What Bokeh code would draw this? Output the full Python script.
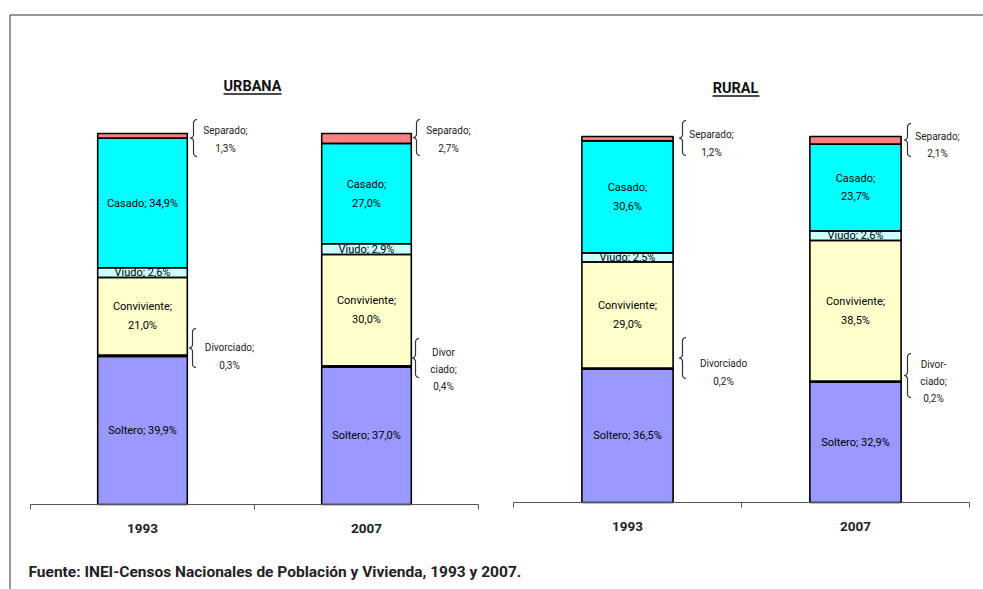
import math
from bokeh.plotting import figure
from bokeh.models import Range1d, ColumnDataSource
from bokeh.core.properties import value
from bokeh.embed import file_html
from bokeh.resources import INLINE

# ---------------- data ----------------
years = ["1993", "2007"]
estados = ["Soltero", "Divorciado", "Conviviente", "Viudo", "Casado", "Separado"]
urbana_1993 = [39.9, 0.3, 21.0, 2.6, 34.9, 1.3]
urbana_2007 = [37.0, 0.4, 30.0, 2.9, 27.0, 2.7]
rural_1993 = [36.5, 0.2, 29.0, 2.5, 30.6, 1.2]
rural_2007 = [32.9, 0.2, 38.5, 2.6, 23.7, 2.1]
colores = ["#9999FF", "#000000", "#FFFFCC", "#CCFFFF", "#00FFFF", "#FF8080"]
titulos = ["URBANA", "RURAL"]
fuente = "Fuente: INEI-Censos Nacionales de Población y Vivienda, 1993 y 2007."

# label wording (line breaks) per bar
casado_sep = [[" ", "\n"], ["\n", "\n"]]
divorciado_tpl = [["Divorciado;\n{}", "Divor\nciado;\n{}"],
                  ["Divorciado\n{}", "Divor-\nciado;\n{}"]]

FONT = "Roboto"

# ---------------- layout (page pixels) ----------------
W, H = 983, 589
OX, OY = 0, 0
panels = [
    dict(title=titulos[0], series=[urbana_1993, urbana_2007], ax0=30, ax1=478, y0=504, y100=133,
         title_xy=(252, 86), underline=(223, 281, 93.5),
         sep_brace=[(193, 119, 156), (416, 119, 155)], sep_text=[(225, 139), (448, 139)],
         div_brace=[(192, 328, 367), (415, 338, 377)], div_text=[(229, 356), (443, 369)]),
    dict(title=titulos[1], series=[rural_1993, rural_2007], ax0=513, ax1=969, y0=502, y100=136,
         title_xy=(735, 88), underline=(712, 759, 95.5),
         sep_brace=[(682, 120, 155), (907, 123, 156)], sep_text=[(711, 143), (937, 144.5)],
         div_brace=[(682, 337, 378), (907, 353, 397)], div_text=[(723, 372), (933, 381)]),
]

p = figure(width=W, height=H, output_backend="svg", toolbar_location=None,
           x_range=Range1d(OX, OX + W), y_range=Range1d(OY + H, OY),
           x_axis_type=None, y_axis_type=None, min_border=0,
           outline_line_color=None, background_fill_color="white")
p.grid.visible = False


def fmt(v):
    return f"{v:.1f}".replace(".", ",") + "%"


def brace_pts(s, top, bot, r=3.5, n=6):
    m = (top + bot) / 2.0
    xs, ys = [], []
    ang = [i * math.pi / 2 / n for i in range(n + 1)]
    for t in ang:
        xs.append(s + r - r * math.sin(t)); ys.append(top + r - r * math.cos(t))
    for t in ang:
        xs.append(s - r + r * math.cos(t)); ys.append(m - r + r * math.sin(t))
    for t in ang:
        xs.append(s - r + r * math.sin(t)); ys.append(m + r - r * math.cos(t))
    for t in ang:
        xs.append(s + r - r * math.cos(t)); ys.append(bot - r + r * math.sin(t))
    return xs, ys


# outer frame
p.segment(x0=[9.5, 9.5], y0=[14.5, 14.5], x1=[1000, 9.5], y1=[14.5, 600],
          line_color="#333333", line_width=1)

for k, pn in enumerate(panels):
    xn, yn = f"x{k}", f"y{k}"
    ppu = (pn["ax1"] - pn["ax0"]) / len(years)      # px per category
    ppp = (pn["y0"] - pn["y100"]) / 100.0           # px per percent
    p.extra_x_ranges[xn] = Range1d((OX - pn["ax0"]) / ppu, (OX + W - pn["ax0"]) / ppu)
    p.extra_y_ranges[yn] = Range1d((pn["y0"] - (OY + H)) / ppp, (pn["y0"] - OY) / ppp)

    xs, bots, tops, cols, lx, ly, lt = [], [], [], [], [], [], []
    for j, ser in enumerate(pn["series"]):
        acc = 0.0
        for i, v in enumerate(ser):
            xs.append(j + 0.5); bots.append(acc); tops.append(acc + v); cols.append(colores[i])
            name = estados[i]
            if name in ("Soltero", "Viudo"):
                lx.append(j + 0.5); ly.append(acc + v / 2); lt.append(f"{name}; {fmt(v)}")
            elif name == "Conviviente":
                lx.append(j + 0.5); ly.append(acc + v / 2); lt.append(f"{name};\n{fmt(v)}")
            elif name == "Casado":
                lx.append(j + 0.5); ly.append(acc + v / 2); lt.append(f"{name};{casado_sep[k][j]}{fmt(v)}")
            acc += v
    src = ColumnDataSource(dict(x=xs, bottom=bots, top=tops, color=cols))
    p.vbar(x="x", bottom="bottom", top="top", width=0.4, source=src, fill_color="color",
           line_color=None, x_range_name=xn, y_range_name=yn)
    p.text(x=lx, y=ly, text=lt, x_range_name=xn, y_range_name=yn, text_align="center",
           text_baseline="middle", text_font=value(FONT), text_font_size="11px",
           text_color="#000000", text_line_height=1.45)
    p.vbar(x="x", bottom="bottom", top="top", width=0.4, source=src, fill_color=None,
           line_color="#000000", line_width=1.6, x_range_name=xn, y_range_name=yn)

    # category axis
    tick_len = 5 / ppp
    p.segment(x0=[0], y0=[0], x1=[len(years)], y1=[0], line_color="#555555", line_width=1,
              x_range_name=xn, y_range_name=yn)
    p.segment(x0=list(range(len(years) + 1)), y0=[0] * (len(years) + 1),
              x1=list(range(len(years) + 1)), y1=[-tick_len] * (len(years) + 1),
              line_color="#555555", line_width=1, x_range_name=xn, y_range_name=yn)
    p.text(x=[j + 0.5 for j in range(len(years))], y=[0] * len(years), text=years,
           x_range_name=xn, y_range_name=yn, y_offset=24, text_align="center",
           text_baseline="middle", text_font=value(FONT), text_font_size="13.5px",
           text_font_style="bold", text_color="#222222")

    # title with underline
    tx, ty = pn["title_xy"]
    p.text(x=[tx], y=[ty], text=[pn["title"]], text_align="center", text_baseline="middle",
           text_font=value(FONT), text_font_size="14.5px", text_font_style="bold", text_color="#111111")
    u0, u1, uy = pn["underline"]
    p.segment(x0=[u0], y0=[uy], x1=[u1], y1=[uy], line_color="#111111", line_width=1.6)

    # braces and outside labels
    bx, by, ox, oy, ot = [], [], [], [], []
    for j, ser in enumerate(pn["series"]):
        for (s, t, b) in (pn["sep_brace"][j], pn["div_brace"][j]):
            xx, yy = brace_pts(s, t, b)
            bx.append(xx); by.append(yy)
        ox.append(pn["sep_text"][j][0]); oy.append(pn["sep_text"][j][1])
        ot.append(f"{estados[5]};\n{fmt(ser[5])}")
        ox.append(pn["div_text"][j][0]); oy.append(pn["div_text"][j][1])
        ot.append(divorciado_tpl[k][j].format(fmt(ser[1])))
    p.multi_line(xs=bx, ys=by, line_color="#333333", line_width=1.2)
    p.text(x=ox, y=oy, text=ot, text_align="center", text_baseline="middle",
           text_font=value(FONT), text_font_size="10px", text_color="#222222",
           text_line_height=1.55)

# footer
p.text(x=[28], y=[571], text=[fuente], text_align="left", text_baseline="middle",
       text_font=value(FONT), text_font_size="15.5px", text_font_style="bold", text_color="#222222")

open("out.html", "w").write(file_html(p, INLINE))
